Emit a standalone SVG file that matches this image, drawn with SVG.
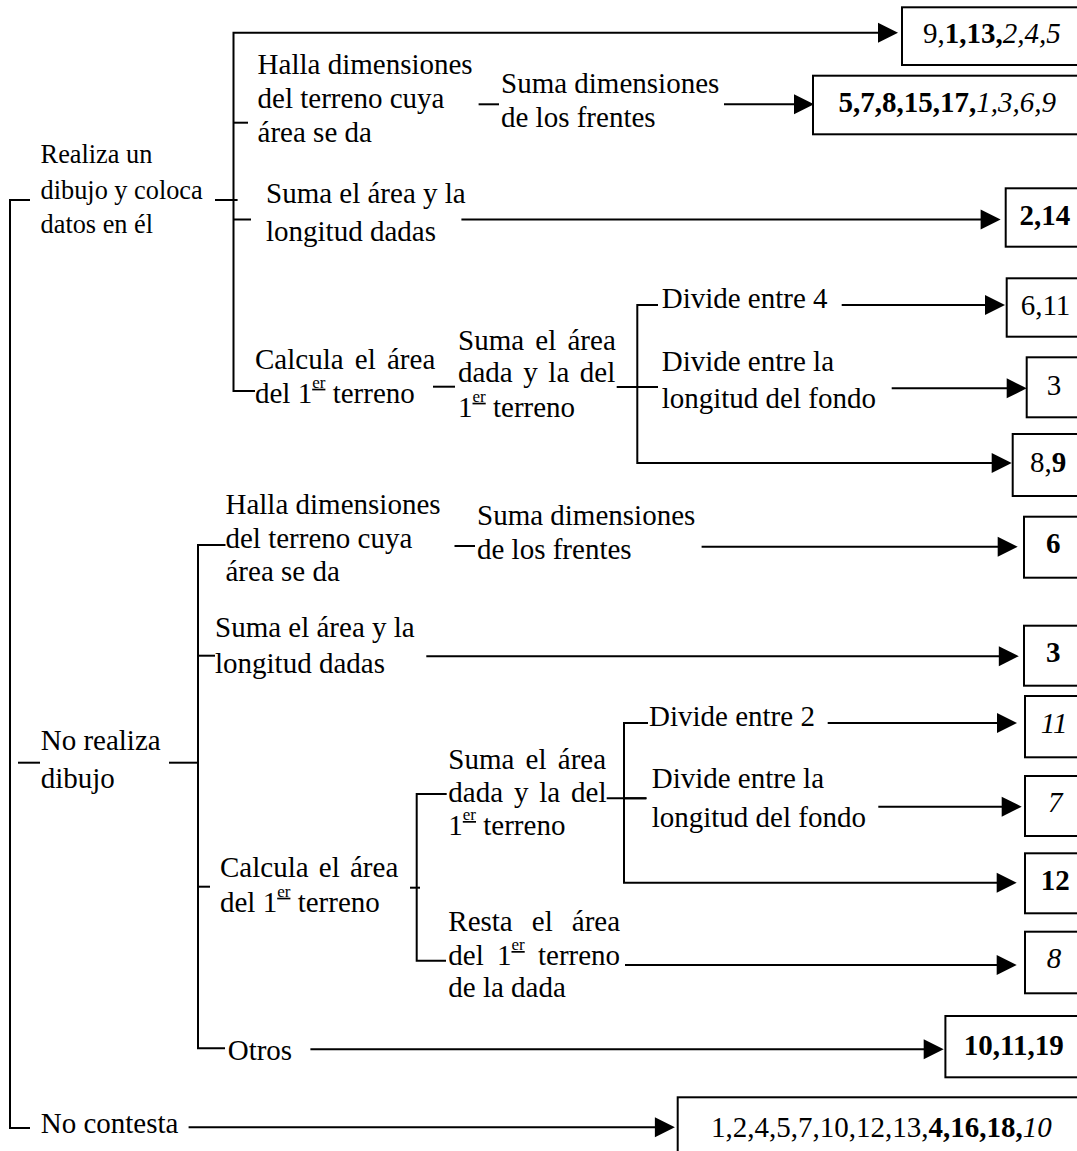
<svg xmlns="http://www.w3.org/2000/svg" xmlns:xlink="http://www.w3.org/1999/xlink" width="1077" height="1151" viewBox="0 0 1077 1151">
<style>
.t{font-family:"Liberation Serif","Times New Roman",serif;font-size:29px;fill:#000}
.s{font-size:26.3px}
.b{font-weight:bold}
.i{font-style:italic}
.sup{font-size:17px;text-decoration:underline}
.ln{stroke:#000;stroke-width:2;fill:none}
.bx{fill:#fff;stroke:#000;stroke-width:2}
</style>
<defs>
<path id="ah" d="M-20,-10 L0,0 L-20,10 Z" fill="#000"/>
</defs>
<rect x="0" y="0" width="1077" height="1151" fill="#fff"/>

<g id="connectors">
<path class="ln" d="M30,200 H10 V1128 H30"/>
<path class="ln" d="M18,762.7 H40"/>
<path class="ln" d="M215,200 H237.6"/>
<path class="ln" d="M255,391 H233.5 V32.7 H884"/>
<use xlink:href="#ah" x="898" y="32.7"/>
<path class="ln" d="M233.5,122.7 H248"/>
<path class="ln" d="M233.5,219.5 H251"/>
<path class="ln" d="M478.6,104.3 H499"/>
<path class="ln" d="M724,104.3 H800"/>
<use xlink:href="#ah" x="814" y="104.3"/>
<path class="ln" d="M461.4,219.5 H987"/>
<use xlink:href="#ah" x="1000.6" y="219.5"/>
<path class="ln" d="M433,386.7 H455"/>
<path class="ln" d="M616.7,387 H658"/>
<path class="ln" d="M658,305 H637.3 V463 H998"/>
<use xlink:href="#ah" x="1011.7" y="463"/>
<path class="ln" d="M841.7,305 H991"/>
<use xlink:href="#ah" x="1005" y="305"/>
<path class="ln" d="M891.7,388.3 H1012"/>
<use xlink:href="#ah" x="1026.7" y="388.3"/>

<path class="ln" d="M169,762.7 H198"/>
<path class="ln" d="M225.5,545 H198 V1048.3 H225"/>
<path class="ln" d="M198,655.7 H215"/>
<path class="ln" d="M198,886.7 H210"/>
<path class="ln" d="M454.5,546 H475"/>
<path class="ln" d="M701.6,546.7 H1004"/>
<use xlink:href="#ah" x="1017.7" y="546.7"/>
<path class="ln" d="M426.3,656.2 H1005"/>
<use xlink:href="#ah" x="1018.8" y="656.2"/>
<path class="ln" d="M410,887.7 H420"/>
<path class="ln" d="M446.7,794 H416.7 V960.7 H446"/>
<path class="ln" d="M606.7,798.3 H646.7"/>
<path class="ln" d="M648,723 H624 V882.7 H1003"/>
<use xlink:href="#ah" x="1016.7" y="882.7"/>
<path class="ln" d="M827.7,723 H1003"/>
<use xlink:href="#ah" x="1017" y="723"/>
<path class="ln" d="M624,798.3 H646"/>
<path class="ln" d="M878.3,806.7 H1008"/>
<use xlink:href="#ah" x="1021.7" y="806.7"/>
<path class="ln" d="M625,965 H1003"/>
<use xlink:href="#ah" x="1016.7" y="965"/>
<path class="ln" d="M310.4,1049.3 H930"/>
<use xlink:href="#ah" x="943.7" y="1049.3"/>
<path class="ln" d="M188.6,1127.3 H661"/>
<use xlink:href="#ah" x="674.9" y="1127.3"/>
</g>

<g id="n-realiza">
<text class="t s" x="40.6" y="163.3">Realiza un</text>
<text class="t s" x="40.6" y="199">dibujo y coloca</text>
<text class="t s" x="40.6" y="233.3">datos en él</text>
</g>
<g id="n-halla1">
<text class="t" x="257.6" y="74">Halla dimensiones</text>
<text class="t" x="257.6" y="108.3">del terreno cuya</text>
<text class="t" x="257.6" y="141.7">área se da</text>
</g>
<g id="n-sumadim1">
<text class="t" x="501" y="93.3">Suma dimensiones</text>
<text class="t" x="501" y="126.7">de los frentes</text>
</g>
<g id="n-sumaarea1">
<text class="t" x="266" y="203.3">Suma el área y la</text>
<text class="t" x="266" y="240.7">longitud dadas</text>
</g>
<g id="n-calcula1">
<text class="t" x="255" y="369.3" word-spacing="4">Calcula el área</text>
<text class="t" x="255" y="402.7">del 1<tspan class="sup" dy="-15">er</tspan><tspan dy="15"> terreno</tspan></text>
</g>
<g id="n-sumadada1">
<text class="t" x="458" y="350" word-spacing="4">Suma el área</text>
<text class="t" x="458" y="381.7" word-spacing="3.3">dada y la del</text>
<text class="t" x="458" y="416.7">1<tspan class="sup" dy="-15">er</tspan><tspan dy="15"> terreno</tspan></text>
</g>
<g id="n-div4">
<text class="t" x="661.7" y="308.3">Divide entre 4</text>
</g>
<g id="n-divlong1">
<text class="t" x="661.7" y="370.7">Divide entre la</text>
<text class="t" x="661.7" y="407.7">longitud del fondo</text>
</g>

<g id="r1"><rect class="bx" x="902" y="7.3" width="190" height="57.7"/>
<text class="t" x="923" y="43.3">9,<tspan class="b">1,13,</tspan><tspan class="i">2,4,5</tspan></text></g>
<g id="r2"><rect class="bx" x="813" y="75.7" width="280" height="58.6"/>
<text class="t" x="838.6" y="111.7"><tspan class="b">5,7,8,15,17,</tspan><tspan class="i">1,3,6,9</tspan></text></g>
<g id="r3"><rect class="bx" x="1005.7" y="188.3" width="90" height="58.4"/>
<text class="t b" x="1019.5" y="225">2,14</text></g>
<g id="r4"><rect class="bx" x="1006.7" y="278.3" width="90" height="58.4"/>
<text class="t" x="1020.7" y="315">6,11</text></g>
<g id="r5"><rect class="bx" x="1026.7" y="357.3" width="70" height="60"/>
<text class="t" x="1046.7" y="395">3</text></g>
<g id="r6"><rect class="bx" x="1012.7" y="434" width="90" height="62"/>
<text class="t" x="1030" y="471.7">8,<tspan class="b">9</tspan></text></g>

<g id="n-norealiza">
<text class="t" x="40.7" y="750">No realiza</text>
<text class="t" x="40.7" y="788.3">dibujo</text>
</g>
<g id="n-halla2">
<text class="t" x="225.5" y="514">Halla dimensiones</text>
<text class="t" x="225.5" y="547.5">del terreno cuya</text>
<text class="t" x="225.5" y="581">área se da</text>
</g>
<g id="n-sumadim2">
<text class="t" x="477" y="525">Suma dimensiones</text>
<text class="t" x="477" y="559">de los frentes</text>
</g>
<g id="n-sumaarea2">
<text class="t" x="215" y="636.7">Suma el área y la</text>
<text class="t" x="215" y="673.3">longitud dadas</text>
</g>
<g id="n-calcula2">
<text class="t" x="220" y="876.7" word-spacing="3">Calcula el área</text>
<text class="t" x="220" y="911.7">del 1<tspan class="sup" dy="-15">er</tspan><tspan dy="15"> terreno</tspan></text>
</g>
<g id="n-sumadada2">
<text class="t" x="448.3" y="769.3" word-spacing="4">Suma el área</text>
<text class="t" x="448.3" y="801.7" word-spacing="3.6">dada y la del</text>
<text class="t" x="448.3" y="835">1<tspan class="sup" dy="-15">er</tspan><tspan dy="15"> terreno</tspan></text>
</g>
<g id="n-div2">
<text class="t" x="649" y="725.7">Divide entre 2</text>
</g>
<g id="n-divlong2">
<text class="t" x="651.7" y="788.3">Divide entre la</text>
<text class="t" x="651.7" y="826.7">longitud del fondo</text>
</g>
<g id="n-resta">
<text class="t" x="448.3" y="930.7" word-spacing="11.8">Resta el área</text>
<text class="t" x="448.3" y="965" word-spacing="6">del 1<tspan class="sup" dy="-15">er</tspan><tspan dy="15"> terreno</tspan></text>
<text class="t" x="448.3" y="997.3">de la dada</text>
</g>
<g id="n-otros">
<text class="t" x="227.7" y="1060">Otros</text>
</g>
<g id="n-nocontesta">
<text class="t" x="40.7" y="1133.3">No contesta</text>
</g>

<g id="r7"><rect class="bx" x="1024" y="516.7" width="70" height="61"/>
<text class="t b" x="1046" y="553.3">6</text></g>
<g id="r8"><rect class="bx" x="1024" y="625.7" width="70" height="60"/>
<text class="t b" x="1046" y="661.7">3</text></g>
<g id="r9"><rect class="bx" x="1025" y="696" width="70" height="61.3"/>
<text class="t i" x="1040.7" y="733">11</text></g>
<g id="r10"><rect class="bx" x="1025" y="776" width="70" height="60"/>
<text class="t i" x="1048" y="811.7">7</text></g>
<g id="r11"><rect class="bx" x="1025" y="853.3" width="70" height="60"/>
<text class="t b" x="1040.7" y="890">12</text></g>
<g id="r12"><rect class="bx" x="1025" y="931.7" width="70" height="61.6"/>
<text class="t i" x="1046.7" y="968.3">8</text></g>
<g id="r13"><rect class="bx" x="945.4" y="1016" width="150" height="61.3"/>
<text class="t b" x="963.8" y="1055">10,11,19</text></g>
<g id="r14"><rect class="bx" x="677.7" y="1097.3" width="420" height="80"/>
<text class="t" x="710.9" y="1136.7">1,2,4,5,7,10,12,13,<tspan class="b">4,16,18,</tspan><tspan class="i">10</tspan></text></g>
</svg>
